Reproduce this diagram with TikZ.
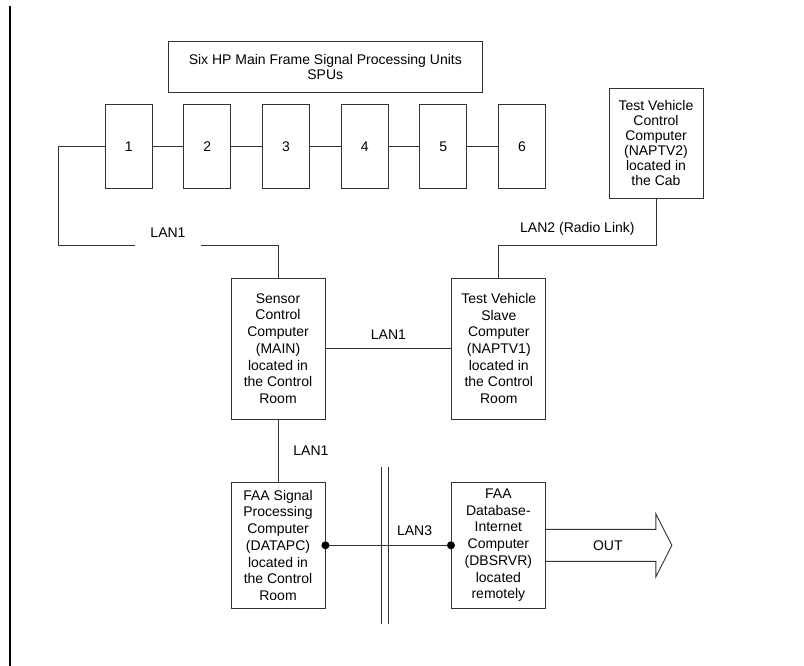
\documentclass[tikz,border=0pt]{standalone}
\usepackage{fontspec}
\setmainfont{Liberation Sans}
\usetikzlibrary{positioning,calc}

\tikzset{
  unitbox/.style={draw=black!80, line width=0.9pt, minimum width=47pt, minimum height=84pt, inner sep=0pt, font=\fontsize{14}{16.7}\selectfont},
  pcbox/.style={draw=black!80, line width=0.9pt, minimum width=94pt, minimum height=141pt, inner sep=0pt, align=center, font=\fontsize{14}{16.7}\selectfont},
  lan/.style={font=\fontsize{14}{16.7}\selectfont, inner sep=1pt},
  wire/.style={draw=black!80, line width=0.9pt},
  jdot/.style={circle, fill=black, inner sep=0pt, minimum size=8pt},
}

\begin{document}
\begin{tikzpicture}[x=1pt,y=-1pt]
	\useasboundingbox (0,0) rectangle (804,666);
	\draw[line width=1.5pt] (10,6) -- (10,666);

	\node[pcbox, minimum width=314pt, minimum height=51pt, font=\fontsize{14}{15}\selectfont] (title) at (325.3,66.5) {Six HP Main Frame Signal Processing Units\\SPUs};

	\foreach \i in {1,...,6}
		\node[unitbox] (spu\i) at ({128.7+78.65*(\i-1)},146.3) {\i};
	\foreach \i [count=\j from 2] in {1,...,5}
		\draw[wire] (spu\i) -- (spu\j);

	\node[pcbox] (mainpc) at (278,348.5) {Sensor\\Control\\Computer\\(MAIN)\\located in\\the Control\\Room};
	\node[pcbox] (naptv1) at (498.8,348.5) {Test Vehicle\\Slave\\Computer\\(NAPTV1)\\located in\\the Control\\Room};
	\node[pcbox, minimum height=110pt, font=\fontsize{14}{15}\selectfont] (naptv2) at (656,143.3) {Test Vehicle\\Control\\Computer\\(NAPTV2)\\located in\\the Cab};
	\node[pcbox, minimum height=126pt] (datapc) at (278,545.3) {FAA Signal\\Processing\\Computer\\(DATAPC)\\located in\\the Control\\Room};
	\node[pcbox, minimum height=126pt] (dbsrvr) at (498.4,545.3) {FAA\\Database-\\Internet\\Computer\\(DBSRVR)\\located\\remotely};

	% LAN1 from the SPUs down to the sensor computer
	\coordinate (lanA) at (58,245);
	\draw[wire] (spu1.west) -- (spu1.west -| lanA) -- (lanA) -- node[lan, fill=white, inner xsep=15pt, inner ysep=7.7pt, above=-1pt] {LAN1} (lanA -| mainpc) -- (mainpc.north);

	% LAN2 radio link
	\draw[wire] (naptv2.south) -- (naptv2.south |- lanA) -- node[lan, above=8pt] {LAN2 (Radio Link)} (naptv1.north |- lanA) -- (naptv1.north);

	\draw[wire] (mainpc) -- node[lan, above=8pt] {LAN1} (naptv1);
	\draw[wire] (mainpc) -- node[lan, right=14pt] {LAN1} (datapc);

	% LAN3 across the wall
	\draw[wire] (datapc.east) -- node[lan, above=8pt, pos=0.71] {LAN3} (dbsrvr.west);
	\node[jdot] (dotA) at (datapc.east) {};
	\node[jdot] (dotB) at (dbsrvr.west) {};
	\draw[wire] (381,466.7) -- (381,624);
	\draw[wire] (388.3,466.7) -- (388.3,624);

	% OUT arrow
	\draw[wire] ($(dbsrvr.east)+(0,-16)$) -- ++(110,0) -- ++(0,-15.5) -- ($(dbsrvr.east)+(126,0)$) -- ++(-16,31.5) -- ++(0,-15.5) -- ($(dbsrvr.east)+(0,16)$);
	\node[lan] (out) at ($(dbsrvr.east)+(62,0)$) {OUT};
\end{tikzpicture}
\end{document}
